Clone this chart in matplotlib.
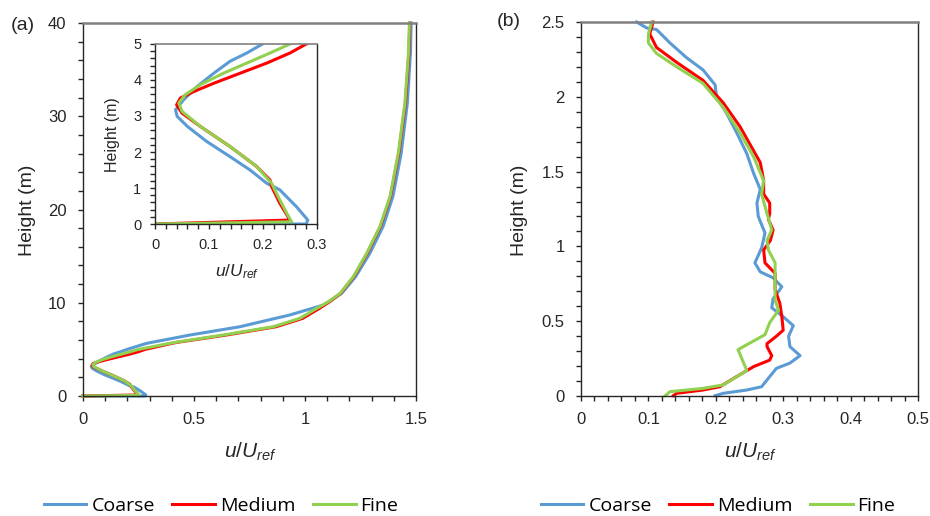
#!/usr/bin/env python3

import matplotlib
matplotlib.use("Agg")
import matplotlib.pyplot as plt
from matplotlib.ticker import MultipleLocator, FuncFormatter

plt.rcParams['font.family'] = ['Liberation Sans', 'DejaVu Sans']
plt.rcParams['mathtext.fontset'] = 'custom'
plt.rcParams['mathtext.rm'] = 'Liberation Sans'
plt.rcParams['mathtext.it'] = 'Liberation Sans:italic'

# ---- data: panel (a), full height profile (inset shows the same data, 0-5 m)
a_coarse_z = [0, 0.0, 0.11, 0.48, 0.95, 1.13, 1.50, 1.87, 2.29, 2.71, 2.99, 3.17, 3.45, 3.82, 4.19,
              4.52, 4.75, 5.0, 5.65, 6.54, 7.43, 8.69, 9.76, 11.0, 12.8, 15.3, 18.2, 21.4, 26.0,
              31.4, 36.75, 40]
a_coarse_u = [0, 0.28, 0.283, 0.262, 0.231, 0.207, 0.176, 0.139, 0.096, 0.060, 0.041, 0.038, 0.053, 0.078, 0.109,
              0.139, 0.170, 0.199, 0.287, 0.482, 0.707, 0.932, 1.083, 1.165, 1.228, 1.292, 1.352, 1.396, 1.433,
              1.461, 1.475, 1.478]

a_medium_z = [0, 0.11, 0.58, 1.04, 1.22, 1.60, 2.15, 2.71, 3.08, 3.31, 3.50, 3.68, 3.91, 4.19,
              4.47, 4.75, 5.0, 5.72, 6.54, 7.43, 8.33, 9.4, 10.1, 11.0, 12.8, 15.3, 18.2, 21.4, 26.0,
              31.4, 36.75, 40]
a_medium_u = [0, 0.250, 0.231, 0.216, 0.213, 0.188, 0.139, 0.084, 0.050, 0.040, 0.047, 0.072, 0.109, 0.158,
              0.207, 0.250, 0.280, 0.415, 0.645, 0.870, 0.990, 1.065, 1.110, 1.160, 1.220, 1.280, 1.340, 1.385, 1.422,
              1.452, 1.468, 1.472]

a_fine_z = [0, 0.06, 0.30, 0.76, 1.13, 1.60, 2.15, 2.71, 3.13, 3.36, 3.59, 3.87, 4.19,
            4.47, 4.75, 5.0, 5.72, 6.54, 7.43, 8.33, 9.4, 10.1, 11.0, 12.8, 15.3, 18.2, 21.4, 26.0,
            31.4, 36.75, 40]
a_fine_u = [0, 0.253, 0.244, 0.228, 0.216, 0.188, 0.139, 0.084, 0.050, 0.044, 0.056, 0.084, 0.127,
            0.170, 0.213, 0.250, 0.407, 0.632, 0.857, 0.977, 1.053, 1.105, 1.158, 1.218, 1.278, 1.338, 1.383, 1.420,
            1.450, 1.466, 1.470]

# ---- data: panel (b), 0-2.5 m
b_coarse_z = [0.002, 0.018, 0.04, 0.062, 0.13, 0.185, 0.22, 0.27, 0.33, 0.40, 0.47, 0.53, 0.59, 0.65,
              0.73, 0.79, 0.83, 0.89, 0.99, 1.09, 1.2, 1.29, 1.38, 1.49, 1.62, 1.76, 1.89, 2.0,
              2.08, 2.18, 2.26, 2.36, 2.45, 2.46, 2.5]
b_coarse_u = [0.199, 0.211, 0.246, 0.268, 0.280, 0.290, 0.310, 0.325, 0.310, 0.308, 0.315, 0.300, 0.283, 0.285,
              0.298, 0.285, 0.266, 0.258, 0.268, 0.273, 0.263, 0.261, 0.266, 0.256, 0.246, 0.231, 0.216, 0.201,
              0.199, 0.181, 0.157, 0.132, 0.112, 0.0975, 0.0826]

b_medium_z = [0.002, 0.018, 0.04, 0.062, 0.13, 0.196, 0.24, 0.27, 0.33, 0.35, 0.40, 0.44, 0.53, 0.62,
              0.71, 0.82, 0.89, 0.976, 1.04, 1.11, 1.18, 1.22, 1.29, 1.35, 1.44, 1.56, 1.64, 1.80,
              1.96, 2.11, 2.23, 2.33, 2.42, 2.5]
b_medium_u = [0.137, 0.142, 0.181, 0.206, 0.231, 0.256, 0.28, 0.283, 0.276, 0.276, 0.29, 0.300, 0.298, 0.295,
              0.288, 0.288, 0.273, 0.271, 0.281, 0.285, 0.278, 0.280, 0.280, 0.271, 0.271, 0.266, 0.256, 0.236,
              0.211, 0.181, 0.142, 0.112, 0.102, 0.107]

b_fine_z = [0.002, 0.029, 0.051, 0.074, 0.17, 0.31, 0.41, 0.49, 0.575, 0.64, 0.75, 0.89, 0.976, 1.04,
            1.11, 1.22, 1.35, 1.44, 1.60, 1.76, 1.93, 2.09, 2.20, 2.29, 2.36, 2.42, 2.5]
b_fine_u = [0.125, 0.132, 0.181, 0.211, 0.246, 0.233, 0.273, 0.28, 0.293, 0.288, 0.288, 0.288, 0.278, 0.276,
            0.283, 0.276, 0.268, 0.271, 0.256, 0.236, 0.211, 0.181, 0.142, 0.112, 0.100, 0.100, 0.105]

labels = ['Coarse', 'Medium', 'Fine']
colors = ['#5B9BD5', '#FF0000', '#92D050']

W, H = 930, 516


def fx(px):
    return px / W


def fy(py):
    return 1 - py / H


def style_axes(ax, size, pad):
    for s in ['left', 'bottom', 'right']:
        ax.spines[s].set_color('#262626')
        ax.spines[s].set_linewidth(1.0)
    ax.spines['top'].set_color('#808080')
    ax.spines['top'].set_linewidth(1.8)
    ax.tick_params(which='both', direction='out', length=3.8, width=1.0,
                   top=False, right=False, labelsize=size, colors='#262626', pad=pad)
    ax.xaxis.set_major_formatter(FuncFormatter(lambda v, p: f'{v:g}'))
    ax.yaxis.set_major_formatter(FuncFormatter(lambda v, p: f'{v:g}'))


fig = plt.figure(figsize=(9.3, 5.16), dpi=100)

ax_a = fig.add_axes([fx(83), fy(396), fx(416 - 83), (396 - 23) / H])
ax_b = fig.add_axes([fx(581), fy(396), fx(918 - 581), (396 - 22) / H])
ax_in = fig.add_axes([fx(155), fy(224), fx(317 - 155), (224 - 44) / H])

a_data = [(a_coarse_u, a_coarse_z), (a_medium_u, a_medium_z), (a_fine_u, a_fine_z)]
b_data = [(b_coarse_u, b_coarse_z), (b_medium_u, b_medium_z), (b_fine_u, b_fine_z)]

handles = []
for (u, z), c, lab in zip(a_data, colors, labels):
    h, = ax_a.plot(u, z, color=c, lw=2.2, label=lab, clip_on=False, solid_joinstyle='round')
    handles.append(h)
    ax_in.plot(u, z, color=c, lw=2.2, clip_on=True, solid_joinstyle='round')
for (u, z), c, lab in zip(b_data, colors, labels):
    ax_b.plot(u, z, color=c, lw=2.2, label=lab, clip_on=False, solid_joinstyle='round')

# panel (a)
ax_a.set_xlim(0, 1.5)
ax_a.set_ylim(0, 40)
ax_a.xaxis.set_major_locator(MultipleLocator(0.5))
ax_a.xaxis.set_minor_locator(MultipleLocator(0.1))
ax_a.yaxis.set_major_locator(MultipleLocator(10))
ax_a.yaxis.set_minor_locator(MultipleLocator(2))
style_axes(ax_a, 12, 8)

# inset
ax_in.set_xlim(0, 0.3)
ax_in.set_ylim(0, 5)
ax_in.xaxis.set_major_locator(MultipleLocator(0.1))
ax_in.xaxis.set_minor_locator(MultipleLocator(0.02))
ax_in.yaxis.set_major_locator(MultipleLocator(1))
ax_in.yaxis.set_minor_locator(MultipleLocator(0.2))
style_axes(ax_in, 10.5, 6)
ax_in.spines['top'].set_linewidth(1.2)

# panel (b)
ax_b.set_xlim(0, 0.5)
ax_b.set_ylim(0, 2.5)
ax_b.xaxis.set_major_locator(MultipleLocator(0.1))
ax_b.xaxis.set_minor_locator(MultipleLocator(0.02))
ax_b.yaxis.set_major_locator(MultipleLocator(0.5))
ax_b.yaxis.set_minor_locator(MultipleLocator(0.1))
style_axes(ax_b, 12, 8)

# labels
xlab = r'$u/U_{ref}$'
fig.text(fx(27), fy(210), 'Height (m)', rotation=90, ha='center', va='center', fontsize=14, color='#262626')
fig.text(fx(520), fy(210), 'Height (m)', rotation=90, ha='center', va='center', fontsize=14, color='#262626')
fig.text(fx(112), fy(135), 'Height (m)', rotation=90, ha='center', va='center', fontsize=11.5, color='#262626')
fig.text(fx(250), fy(452), xlab, ha='center', va='center', fontsize=15, color='#262626')
fig.text(fx(750), fy(452), xlab, ha='center', va='center', fontsize=15, color='#262626')
fig.text(fx(237), fy(272), xlab, ha='center', va='center', fontsize=12.5, color='#262626')
fig.text(fx(11), fy(25), '(a)', ha='left', va='center', fontsize=14, color='#262626')
fig.text(fx(497), fy(22), '(b)', ha='left', va='center', fontsize=14, color='#262626')

# legends
for cx in [221, 718]:
    fig.legend(handles, labels, loc='center', bbox_to_anchor=(fx(cx), fy(506)), ncol=3,
               frameon=False, handlelength=2.2, handletextpad=0.25, columnspacing=0.9,
               prop={'family': ['Open Sans', 'Liberation Sans'], 'size': 14})

fig.savefig('out.png', dpi=100)
